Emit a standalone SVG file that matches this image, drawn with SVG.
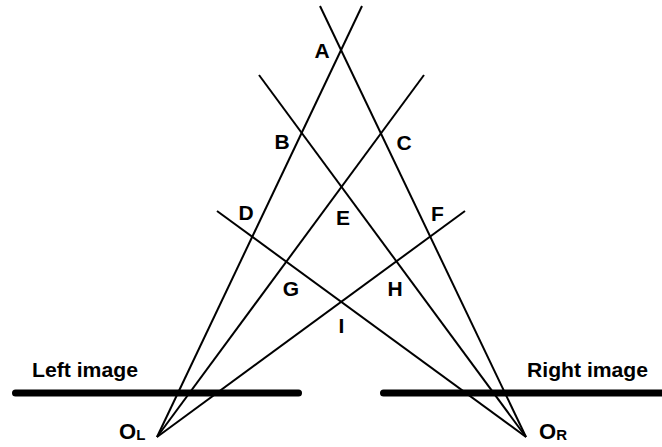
<svg xmlns="http://www.w3.org/2000/svg" width="662" height="447" viewBox="0 0 662 447">
<style>
.ray{stroke:#000;stroke-width:2;fill:none}
.bar{stroke:#000;stroke-width:7;stroke-linecap:round}
text{font-family:"Liberation Sans",Arial,sans-serif;font-weight:bold;fill:#000}
.lbl{font-size:21px;text-anchor:middle}
.cap{font-size:21px}
.o{font-size:22px}
.sub{font-size:15px}
</style>
<rect width="662" height="447" fill="#fff"/>
<g id="connectors">
<line class="ray" x1="157" y1="437" x2="362" y2="6"/>
<line class="ray" x1="157" y1="437" x2="424" y2="75"/>
<line class="ray" x1="157" y1="437" x2="465" y2="211"/>
<line class="ray" x1="526" y1="437" x2="320" y2="6"/>
<line class="ray" x1="526" y1="437" x2="259" y2="75"/>
<line class="ray" x1="526" y1="437" x2="217" y2="211"/>
</g>
<g id="left-image">
<line class="bar" x1="15.5" y1="393" x2="298.5" y2="393"/>
<text class="cap" x="32" y="377" textLength="106" lengthAdjust="spacingAndGlyphs">Left image</text>
</g>
<g id="right-image">
<line class="bar" x1="383.5" y1="393" x2="670" y2="393"/>
<text class="cap" x="527" y="377" textLength="121" lengthAdjust="spacingAndGlyphs">Right image</text>
</g>
<g id="OL"><text x="119" y="439" class="o">O<tspan class="sub" dy="1">L</tspan></text></g>
<g id="OR"><text x="539" y="439" class="o">O<tspan class="sub" dy="1">R</tspan></text></g>
<g id="A"><text class="lbl" x="322" y="58">A</text></g>
<g id="B"><text class="lbl" x="282" y="149">B</text></g>
<g id="C"><text class="lbl" x="404" y="150">C</text></g>
<g id="D"><text class="lbl" x="246" y="220">D</text></g>
<g id="E"><text class="lbl" x="343" y="225">E</text></g>
<g id="F"><text class="lbl" x="437.5" y="221">F</text></g>
<g id="G"><text class="lbl" x="291" y="296">G</text></g>
<g id="H"><text class="lbl" x="395" y="296">H</text></g>
<g id="I"><text class="lbl" x="341.5" y="333">I</text></g>
</svg>
